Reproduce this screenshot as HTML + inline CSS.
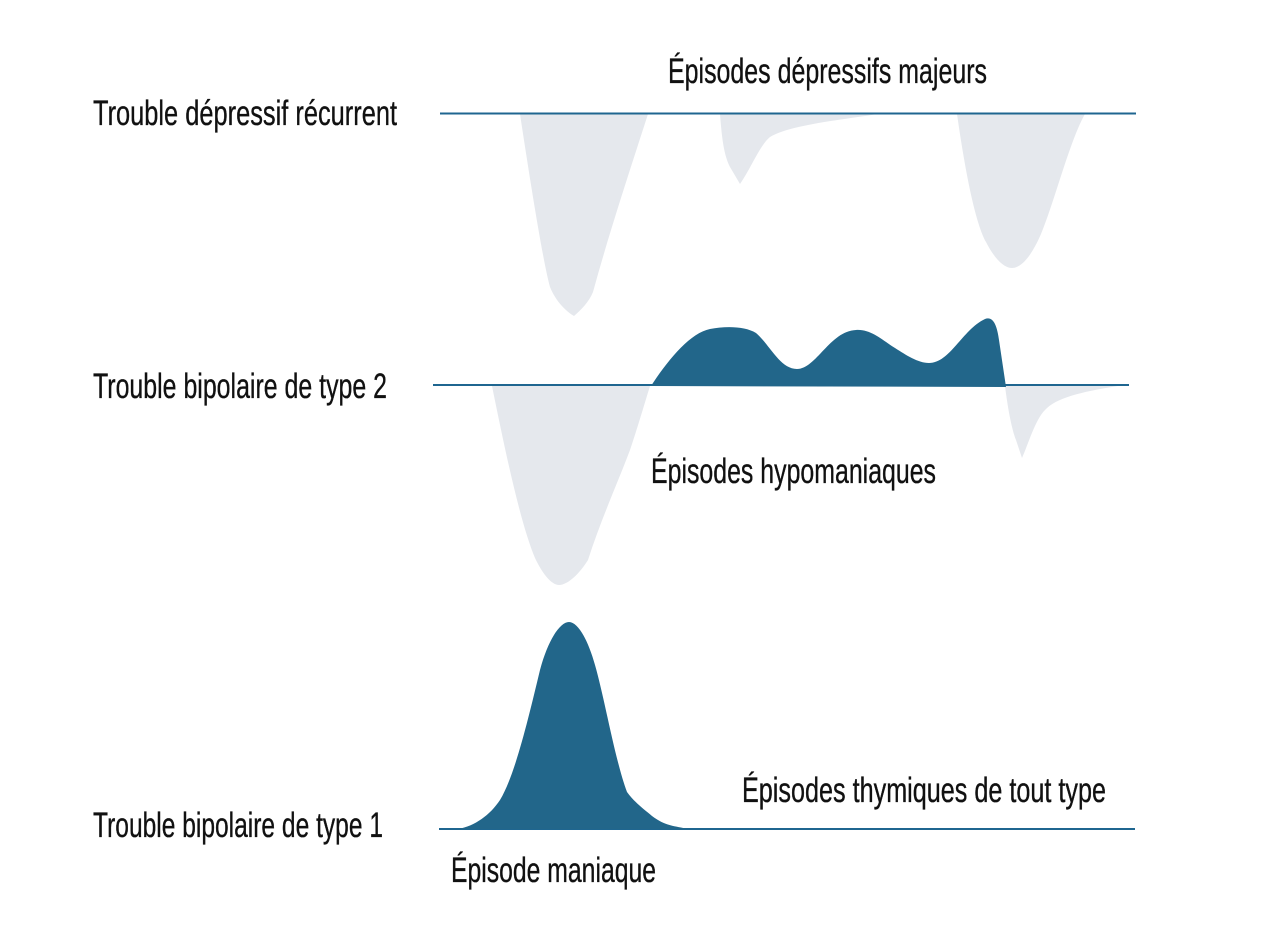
<!DOCTYPE html>
<html>
<head>
<meta charset="utf-8">
<style>
html,body{margin:0;padding:0;background:#fff;}
svg{display:block;}
text{font-family:"Liberation Sans", "DejaVu Sans", sans-serif;font-size:35px;fill:#111;stroke:#111;stroke-width:0.35px;}
</style>
</head>
<body>
<svg width="1280" height="941" viewBox="0 0 1280 941" xmlns="http://www.w3.org/2000/svg">
  <rect width="1280" height="941" fill="#fff"/>

  <!-- Row 1: Trouble dépressif récurrent -->
  <path d="M520,114 C530,180 543,262 550,287 C556,302 567,312 574,316 C581,310 589,302 593,292 C610,230 630,170 648,114 Z" fill="#e5e8ed"/>
  <path d="M720,114 C722,140 724,155 730,167 L740,184 C750,170 760,145 770,137 C790,125 840,120 878,114 Z" fill="#e5e8ed"/>
  <path d="M957,114 C965,170 975,222 986,242 C992,254 1002,268 1012,268 C1021,268 1031,257 1041,234 C1055,200 1070,140 1085,114 Z" fill="#e5e8ed"/>
  <line x1="440" y1="113.5" x2="1136" y2="113.5" stroke="#1f6690" stroke-width="2"/>

  <!-- Row 2: Trouble bipolaire de type 2 -->
  <path d="M492,386 C505,450 520,522 535,558 C543,575 552,585 559,585 C568,585 580,573 588,560 C600,522 618,482 630,450 C640,420 645,402 650,386 Z" fill="#e5e8ed"/>
  <path d="M1005,386 C1008,410 1012,430 1016,440 L1022,458 C1028,445 1035,420 1045,410 C1056,398 1080,392 1118,386 Z" fill="#e5e8ed"/>
  <line x1="433" y1="385" x2="1129" y2="385" stroke="#1f6690" stroke-width="2"/>
  <path d="M651,386 C668,360 690,333 710,329 C725,326 745,326 756,333 C770,345 780,369 797,369 C816,369 830,331 856,330 C871,329 882,340 895,348 C906,355 918,363 929,363 C950,363 962,330 985,319 C993,316 997,325 999,340 L1006,387 Z" fill="#22668a"/>

  <!-- Row 3: Trouble bipolaire de type 1 -->
  <line x1="439" y1="829" x2="1135" y2="829" stroke="#1f6690" stroke-width="2"/>
  <path d="M458,829 C475,826 490,815 500,800 C515,775 528,720 540,670 C548,640 560,622 569,622 C578,622 588,640 595,665 C605,700 615,760 627,792 C635,803 645,810 652,816 C665,826 675,826 688,829 Z" fill="#22668a"/>

  <!-- Labels -->
  <text x="93" y="125" textLength="304" lengthAdjust="spacingAndGlyphs">Trouble dépressif récurrent</text>
  <text x="668" y="83" textLength="319" lengthAdjust="spacingAndGlyphs">Épisodes dépressifs majeurs</text>
  <text x="93" y="398" textLength="294" lengthAdjust="spacingAndGlyphs">Trouble bipolaire de type 2</text>
  <text x="651" y="483" textLength="285" lengthAdjust="spacingAndGlyphs">Épisodes hypomaniaques</text>
  <text x="93" y="837" textLength="290" lengthAdjust="spacingAndGlyphs">Trouble bipolaire de type 1</text>
  <text x="742" y="802" textLength="364" lengthAdjust="spacingAndGlyphs">Épisodes thymiques de tout type</text>
  <text x="451" y="882" textLength="205" lengthAdjust="spacingAndGlyphs">Épisode maniaque</text>
</svg>
</body>
</html>
